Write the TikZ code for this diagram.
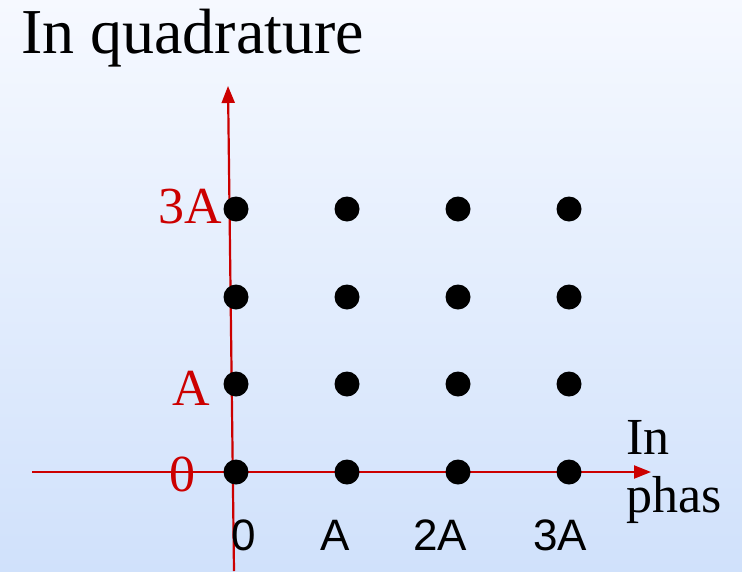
\documentclass[tikz,border=0pt]{standalone}
\usepackage{fontspec}
\setmainfont{Liberation Serif}
\setsansfont{Liberation Sans}
\usepackage{tikz}
\usetikzlibrary{arrows.meta,positioning}
\definecolor{axisred}{HTML}{CC0000}
\definecolor{bgtop}{HTML}{F6F9FF}
\definecolor{bgbottom}{HTML}{D0E1FB}
\tikzset{
    >={Triangle[length=17pt,width=13pt]},
    font={\fontsize{52pt}{60pt}\selectfont},
}

\begin{document}
\begin{tikzpicture}[x=1pt,y=-1pt]
\tikzstyle{point} = [circle, fill=black, inner sep=0pt, minimum size=25pt]
\tikzstyle{axis} = [draw, ->, line width=2.2pt, axisred]
\tikzstyle{redlabel} = [anchor=base east, inner sep=0pt, text=axisred, font={\fontsize{52pt}{60pt}\selectfont}]
\tikzstyle{tick} = [anchor=base, inner sep=0pt, font={\sffamily\fontsize{44pt}{50pt}\selectfont}]

% Background
\useasboundingbox (0,0) rectangle (742,571);
\shade[top color=bgtop, bottom color=bgbottom] (0,0) rectangle (742,571);

% Axes
\coordinate (ybot) at (234,571);
\coordinate (ytop) at (228,86);
\coordinate (xleft) at (32,472);
\coordinate (xright) at (651,472);
\draw[axis] (ybot) -- (ytop);
\draw[axis] (xleft) -- (xright);

% Titles
\node[anchor=base west, inner sep=0pt, font={\fontsize{64pt}{72pt}\selectfont}] (title) at (21,53) {In quadrature};
\node[anchor=base west, inner sep=0pt] (inlbl) at (626,454) {In};
\node[anchor=base west, inner sep=0pt] (phaslbl) at (626,512) {phas};

% Constellation points
\node[point] (p00) at (236,472) {};
\node[point] (p10) at (347,472) {};
\node[point] (p20) at (458,472) {};
\node[point] (p30) at (569,472) {};
\node[point] (p01) at (236,384) {};
\node[point] (p11) at (347,384) {};
\node[point] (p21) at (458,384) {};
\node[point] (p31) at (569,384) {};
\node[point] (p02) at (236,297) {};
\node[point] (p12) at (347,297) {};
\node[point] (p22) at (458,297) {};
\node[point] (p32) at (569,297) {};
\node[point] (p03) at (236,209) {};
\node[point] (p13) at (347,209) {};
\node[point] (p23) at (458,209) {};
\node[point] (p33) at (569,209) {};

% Quadrature labels (red)
\node[redlabel] (q3) at (222,223) {3A};
\node[redlabel] (q1) at (210,405) {A};
\node[redlabel] (q0) at (196,491) {0};

% In-phase labels
\node[tick] (i0) at (244,550) {0};
\node[tick] (i1) at (335,550) {A};
\node[tick] (i2) at (440,550) {2A};
\node[tick] (i3) at (560,550) {3A};
\end{tikzpicture}
\end{document}
